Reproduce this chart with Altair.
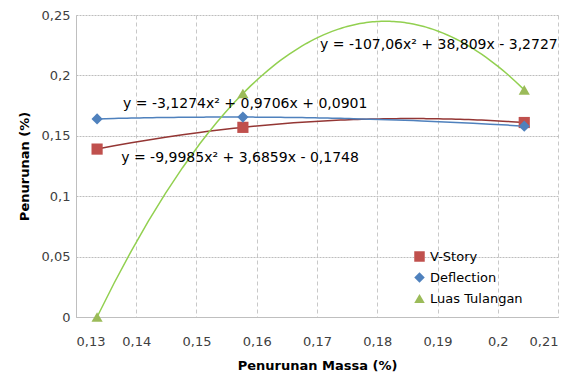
import altair as alt
import pandas as pd

# Data
x_vals = [0.1335, 0.1577, 0.2044]
v_story = [0.139, 0.157, 0.161]
deflection = [0.164, 0.1655, 0.158]
luas = [0.0, 0.185, 0.188]
series_names = ["V-Story", "Deflection", "Luas Tulangan"]

eq_texts = [
    "y = -3,1274x² + 0,9706x + 0,0901",
    "y = -9,9985x² + 3,6859x - 0,1748",
    "y = -107,06x² + 38,809x - 3,2727",
]
eq_x = [0.1378, 0.1375, 0.1705]
eq_y = [0.1765, 0.132, 0.2255]

rows = []
for name, vals in zip(series_names, [v_story, deflection, luas]):
    for xv, yv in zip(x_vals, vals):
        rows.append({"x": xv, "y": yv, "series": name})
df = pd.DataFrame(rows)
eq_df = pd.DataFrame({"x": eq_x, "y": eq_y, "text": eq_texts})

FONT = "DejaVu Sans"
marker_colors = ["#C0504D", "#4F81BD", "#9BBB59"]
line_colors = ["#943634", "#4F81BD", "#92D050"]
shapes = ["square", "diamond", "triangle-up"]

xscale = alt.Scale(domain=[0.13, 0.21], nice=False, zero=False)
yscale = alt.Scale(domain=[0, 0.25], nice=False)

xaxis = alt.Axis(
    title="Penurunan Massa (%)", values=[0.13, 0.14, 0.15, 0.16, 0.17, 0.18, 0.19, 0.2, 0.21],
    labelExpr="replace(format(datum.value, '.2~f'), '.', ',')",
    grid=True, gridDash=[4, 3], gridColor="#C8C8C8", ticks=False,
    domainColor="#BFBFBF", labelPadding=18, titlePadding=11,
)
yaxis = alt.Axis(
    title="Penurunan (%)", values=[0, 0.05, 0.1, 0.15, 0.2, 0.25],
    labelExpr="replace(format(datum.value, '.2~f'), '.', ',')",
    grid=True, gridDash=[2, 1], gridColor="#BDBDBD", ticks=False,
    domainColor="#BFBFBF", labelPadding=6, titlePadding=10,
)

base = alt.Chart(df)

lines = base.transform_regression(
    "x", "y", method="poly", order=2, groupby=["series"]
).mark_line(strokeWidth=1.5).encode(
    x=alt.X("x:Q", scale=xscale, axis=xaxis),
    y=alt.Y("y:Q", scale=yscale, axis=yaxis),
    stroke=alt.Stroke("series:N", scale=alt.Scale(domain=series_names, range=line_colors), legend=None),
)

points = base.mark_point(filled=True, size=125, opacity=1).encode(
    x=alt.X("x:Q", scale=xscale),
    y=alt.Y("y:Q", scale=yscale),
    fill=alt.Fill("series:N", scale=alt.Scale(domain=series_names, range=marker_colors),
                  legend=alt.Legend(title=None, orient="none", legendX=337, legendY=235,
                                    labelFont=FONT, labelFontSize=13, labelColor="#000000",
                                    symbolSize=110, rowPadding=7, labelOffset=4,
                                    symbolStrokeWidth=0)),
    shape=alt.Shape("series:N", scale=alt.Scale(domain=series_names, range=shapes),
                    legend=alt.Legend(title=None, orient="none", legendX=337, legendY=235)),
)

texts = alt.Chart(eq_df).mark_text(align="left", baseline="middle", font=FONT, fontSize=14, color="#000000").encode(
    x=alt.X("x:Q", scale=xscale),
    y=alt.Y("y:Q", scale=yscale),
    text="text:N",
)

chart = alt.layer(lines, points, texts).resolve_scale(stroke="independent").properties(
    width=482, height=302,
    autosize=alt.AutoSizeParams(type="none"),
    padding={"left": 68, "top": 7, "right": 13, "bottom": 58},
).configure_view(stroke=None).configure_axis(
    labelFont=FONT, titleFont=FONT, labelFontSize=13, titleFontSize=13,
    labelColor="#404040", titleColor="#000000", titleFontWeight="bold",
)

chart.save("out.html", embed_options={"renderer": "svg", "actions": False})
